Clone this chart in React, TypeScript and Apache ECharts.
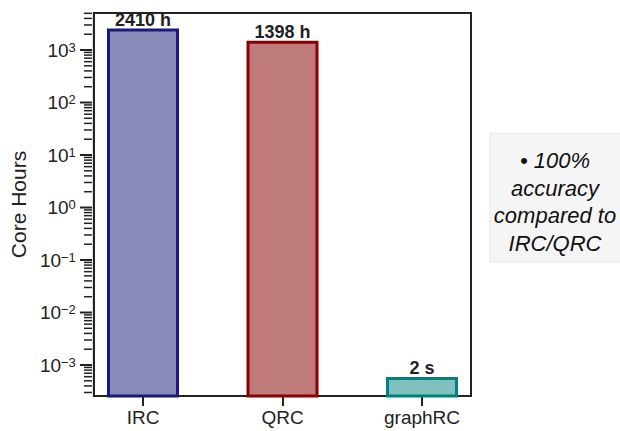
import React, { useEffect, useRef } from "react";
import * as echarts from "echarts";

const categories = ["IRC", "QRC", "graphRC"];
const coreHours = [2410, 1398, 2 / 3600];
const barLabels = ["2410 h", "1398 h", "2 s"];
const fillColors = ["#8b8bb9", "#c07c7c", "#80c1bd"];
const edgeColors = ["#1a1a7e", "#8b0000", "#008080"];
const majorTicks = [1e-3, 1e-2, 1e-1, 1, 10, 100, 1000];
const noteLines = ["• 100%", "accuracy", "compared to", "IRC/QRC"];
const yMin = 2.57e-4;
const yMax = 5070;

const FONT = "'Liberation Sans', Arial, sans-serif";
const INK = "#222222";
const GRID_LEFT = 92;

function buildMinorTicks(): number[] {
  const out: number[] = [];
  for (let k = -4; k <= 3; k++) {
    for (let m = 2; m <= 9; m++) {
      const v = m * Math.pow(10, k);
      if (v > yMin && v < yMax) out.push(v);
    }
  }
  return out;
}

export default function App() {
  const ref = useRef<HTMLDivElement>(null);
  useEffect(() => {
    if (!ref.current) return;
    const chart = echarts.init(ref.current, undefined, { renderer: "svg" });
    const barData = categories.map((c, i) => [i, coreHours[i]]);

    const noteGraphic = {
      type: "group",
      children: [
        {
          type: "rect",
          shape: { x: 490, y: 133, width: 140, height: 129 },
          style: { fill: "#f5f5f5", stroke: "#e4e4e4", lineWidth: 1 },
        },
        {
          type: "text",
          style: {
            text: noteLines.join("\n"),
            x: 555,
            y: 202,
            align: "center",
            verticalAlign: "middle",
            font: "italic 22px " + FONT,
            lineHeight: 27.5,
            fill: "#111111",
          },
        },
      ],
    };

    const option: any = {
      animation: false,
      textStyle: { fontFamily: FONT },
      grid: [
        { left: GRID_LEFT, top: 13, width: 379, height: 383, show: true, borderColor: INK, borderWidth: 2, backgroundColor: "transparent" },
        { left: 73.25, top: 13, width: 418.5, height: 383 },
      ],
      xAxis: [
        { type: "category", gridIndex: 0, data: categories, show: false },
        {
          type: "category",
          gridIndex: 1,
          data: categories,
          axisLine: { show: false },
          axisTick: { show: true, alignWithLabel: true, length: 10, lineStyle: { color: INK, width: 2 } },
          axisLabel: { color: INK, fontSize: 19, fontFamily: FONT, margin: 12 },
        },
      ],
      yAxis: [
        {
          type: "log",
          logBase: 10,
          gridIndex: 0,
          min: yMin,
          max: yMax,
          axisLine: { show: true, lineStyle: { color: INK, width: 2 } },
          axisTick: { show: false },
          splitLine: { show: false },
          name: "Core Hours",
          nameLocation: "middle",
          nameGap: 55,
          nameTextStyle: { fontSize: 21, color: INK, fontFamily: FONT },
          axisLabel: {
            margin: 18,
            showMinLabel: false,
            showMaxLabel: false,
            formatter: (v: number) => {
              const e = Math.round(Math.log10(v));
              const s = e < 0 ? "\u2212" + Math.abs(e) : String(e);
              return "{b|10}{s|" + s + "}";
            },
            rich: {
              b: { fontSize: 19, color: INK, fontFamily: FONT, lineHeight: 19, padding: [8, 0, 0, 0], verticalAlign: "bottom" },
              s: { fontSize: 13, color: INK, fontFamily: FONT, lineHeight: 13, verticalAlign: "top" },
            },
          },
        },
        { type: "log", logBase: 10, gridIndex: 1, min: yMin, max: yMax, show: false, splitLine: { show: false } },
      ],
      series: [
        {
          type: "custom",
          xAxisIndex: 1,
          yAxisIndex: 1,
          silent: true,
          clip: false,
          encode: { x: 0, y: 1 },
          data: barData,
          renderItem: (params: any, api: any) => {
            const i = api.value(0);
            const v = api.value(1);
            const top = api.coord([i, v]);
            const cs = params.coordSys;
            const bottom = cs.y + cs.height;
            const w = 69;
            return {
              type: "group",
              children: [
                {
                  type: "rect",
                  shape: { x: top[0] - w / 2, y: top[1], width: w, height: bottom - top[1] },
                  style: { fill: fillColors[i], stroke: edgeColors[i], lineWidth: 3 },
                },
                {
                  type: "text",
                  style: {
                    text: barLabels[i],
                    x: top[0],
                    y: top[1] - 1,
                    align: "center",
                    verticalAlign: "bottom",
                    font: "bold 18px " + FONT,
                    fill: INK,
                  },
                },
              ],
            };
          },
        },
      ],
      graphic: [noteGraphic],
    };
    chart.setOption(option);

    // Axis tick marks of the log axis, placed through the axis' own scale.
    const tickLines: any[] = [];
    const addTick = (v: number, major: boolean) => {
      const y = chart.convertToPixel({ yAxisIndex: 0 }, v) as number;
      if (typeof y !== "number" || !isFinite(y)) return;
      const len = major ? 12 : 8;
      tickLines.push({
        type: "line",
        silent: true,
        z: 10,
        shape: { x1: GRID_LEFT - len, y1: y, x2: GRID_LEFT, y2: y },
        style: { stroke: INK, lineWidth: major ? 2 : 1.5 },
      });
    };
    majorTicks.forEach((v) => addTick(v, true));
    buildMinorTicks().forEach((v) => addTick(v, false));
    chart.setOption({ graphic: [noteGraphic, { type: "group", children: tickLines }] });

    return () => chart.dispose();
  }, []);
  return <div ref={ref} style={{ position: "absolute", left: 0, top: 0, width: 620, height: 431 }} />;
}
